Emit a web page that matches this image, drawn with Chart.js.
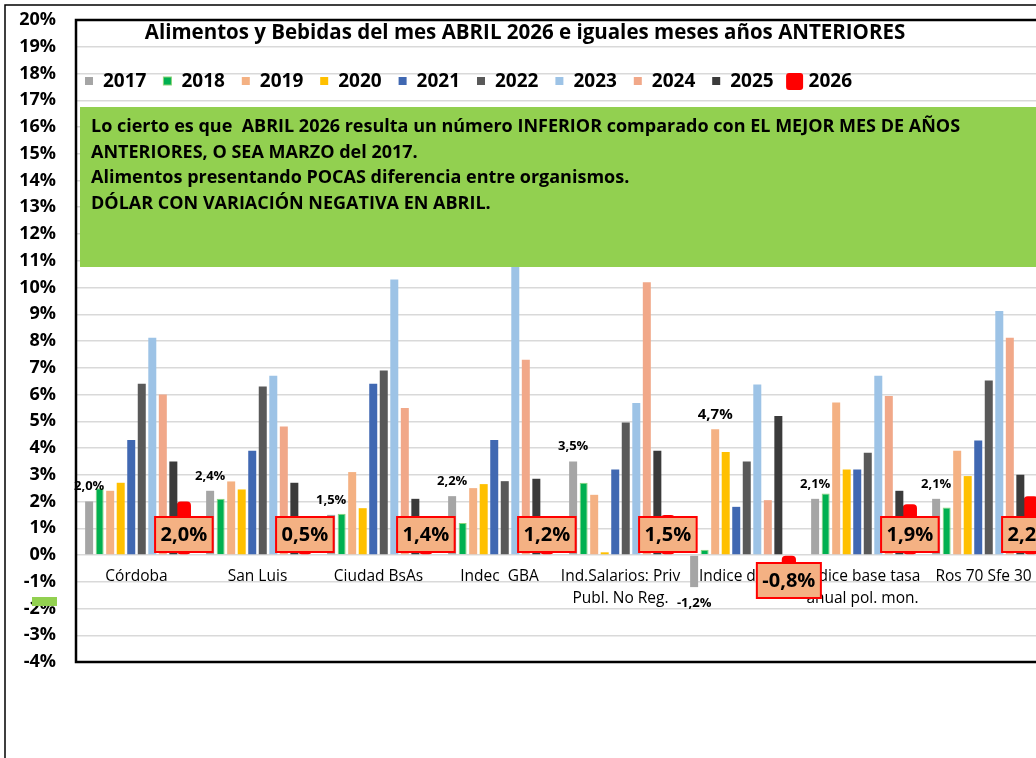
<!DOCTYPE html>
<html>
<head>
<meta charset="utf-8">
<script src="https://cdn.jsdelivr.net/npm/chart.js@4.4.1/dist/chart.umd.min.js"></script>
<style>
  html, body { margin: 0; padding: 0; background: #fff; overflow: hidden; }
  #wrap { position: absolute; left: 0; top: 0; width: 1060px; height: 758px; }
</style>
</head>
<body>
<div id="wrap"><canvas id="chart" width="1060" height="758"></canvas></div>
<script>
// categorias y valores
const categories = ['Córdoba', 'San Luis', 'Ciudad BsAs', 'Indec  GBA',
  ['Ind.Salarios: Priv', 'Publ. No Reg.'], 'Indice dólar',
  ['Indice base tasa', 'anual pol. mon.'], 'Ros 70 Sfe 30'];
const years = ['2017', '2018', '2019', '2020', '2021', '2022', '2023', '2024', '2025', '2026'];

const v2017 = [2.0, 2.4, 1.5, 2.2, 3.5, -1.2, 2.1, 2.1];
const v2018 = [2.5, 2.1, 1.54, 1.2, 2.7, 0.2, 2.3, 1.78];
const v2019 = [2.4, 2.75, 3.1, 2.5, 2.25, 4.7, 5.7, 3.9];
const v2020 = [2.7, 2.45, 1.75, 2.65, 0.1, 3.85, 3.2, 2.95];
const v2021 = [4.3, 3.9, 6.4, 4.3, 3.2, 1.8, 3.2, 4.28];
const v2022 = [6.4, 6.3, 6.9, 2.76, 4.95, 3.5, 3.82, 6.52];
const v2023 = [8.12, 6.7, 10.3, 11.2, 5.68, 6.37, 6.7, 9.12];
const v2024 = [6.0, 4.8, 5.5, 7.3, 10.2, 2.05, 5.94, 8.12];
const v2025 = [3.5, 2.7, 2.1, 2.85, 3.9, 5.2, 2.4, 3.0];
const v2026 = [2.0, 0.5, 1.4, 1.2, 1.5, -0.8, 1.9, 2.2];

const series = [v2017, v2018, v2019, v2020, v2021, v2022, v2023, v2024, v2025, v2026];
const colors = ['#A5A5A5', '#00B050', '#F4B183', '#FFC000', '#4068B2', '#595959', '#9DC3E6', '#F1A889', '#3B3B3B', '#FF0000'];

// etiquetas sobre barras: indices de categoria que llevan valor
const tagged2017 = [0, 1, 2, 3, 4, 5, 6, 7];
const tagged2019 = [5];

const yTicksMin = -4;
const yTicksMax = 20;

const titleText = 'Alimentos y Bebidas del mes ABRIL 2026 e iguales meses años ANTERIORES';
const noteLines = [
  'Lo cierto es que  ABRIL 2026 resulta un número INFERIOR comparado con EL MEJOR MES DE AÑOS',
  'ANTERIORES, O SEA MARZO del 2017.',
  'Alimentos presentando POCAS diferencia entre organismos.',
  'DÓLAR CON VARIACIÓN NEGATIVA EN ABRIL.'
];

const FONT = '"Open Sans", Lato, sans-serif';
const fmt = v => (v < 0 ? '-' : '') + Math.abs(v).toFixed(1).replace('.', ',') + '%';

const datasets = series.map((d, i) => {
  const ds = {
    label: years[i],
    data: d,
    backgroundColor: colors[i],
    borderWidth: 0
  };
  if (years[i] === '2018') {
    ds.borderWidth = 1;
    ds.borderColor = '#8ED37A';
  }
  if (years[i] === '2026') {
    ds.barPercentage = 1.35;
    ds.borderRadius = 4;
    ds.borderSkipped = false;
  }
  return ds;
});

const decor = {
  id: 'decor',
  beforeDraw(chart) {
    const c = chart.ctx;
    c.save();
    c.fillStyle = '#fff';
    c.fillRect(0, 0, chart.width, chart.height);
    c.strokeStyle = '#000';
    c.lineWidth = 1.5;
    c.beginPath();
    c.moveTo(5, chart.height);
    c.lineTo(5, 5);
    c.lineTo(chart.width, 5);
    c.stroke();
    c.restore();
  },
  afterDatasetsDraw(chart) {
    const c = chart.ctx;
    const a = chart.chartArea;
    const y0 = chart.scales.y.getPixelForValue(0);
    c.save();

    // marco del area
    c.strokeStyle = '#000';
    c.lineWidth = 2.5;
    c.strokeRect(a.left, a.top, a.right - a.left + 40, a.bottom - a.top);

    // etiquetas de barras
    c.fillStyle = '#000';
    c.textAlign = 'center';
    c.textBaseline = 'middle';
    const tag = (dsIndex, idxs, size) => {
      const meta = chart.getDatasetMeta(dsIndex);
      c.font = 'bold ' + size + 'px ' + FONT;
      idxs.forEach(j => {
        const bar = meta.data[j];
        const v = series[dsIndex][j];
        const y = v >= 0 ? bar.y - 15 : bar.y + 16;
        c.fillText(fmt(v), bar.x, y);
      });
    };
    tag(0, tagged2017, 13);
    tag(2, tagged2019, 15);

    // cuadro verde con nota
    c.fillStyle = '#92D050';
    c.fillRect(80, 107, chart.width - 80, 160);
    c.fillStyle = '#000';
    c.textAlign = 'left';
    c.font = 'bold 18px ' + FONT;
    noteLines.forEach((t, i) => c.fillText(t, 91, 127 + i * 25.5, i === 0 ? 872 : 2000));

    // cajas de valores 2026
    const meta = chart.getDatasetMeta(9);
    c.font = 'bold 20px ' + FONT;
    c.textAlign = 'center';
    meta.data.forEach((bar, j) => {
      const v = v2026[j];
      const txt = fmt(v);
      const w = c.measureText(txt).width + 11;
      const h = 35;
      const top = v >= 0 ? y0 - 3 - h : y0 + 8;
      c.fillStyle = '#F4B183';
      c.fillRect(bar.x - w / 2, top, w, h);
      c.strokeStyle = '#FF0000';
      c.lineWidth = 2;
      c.strokeRect(bar.x - w / 2, top, w, h);
      c.fillStyle = '#000';
      c.fillText(txt, bar.x, top + h / 2 + 1);
    });

    // titulo
    c.font = 'bold 20.5px ' + FONT;
    c.fillText(titleText, 525, 33, 762);

    // leyenda
    c.textAlign = 'left';
    c.font = 'bold 19px ' + FONT;
    chart.data.datasets.forEach((ds, i) => {
      const cx = 89 + i * 78.4;
      if (ds.label === '2026') {
        c.fillStyle = ds.backgroundColor;
        c.beginPath();
        c.roundRect(cx - 8.5, 73, 17, 17, 3);
        c.fill();
      } else {
        c.fillStyle = ds.backgroundColor;
        c.fillRect(cx - 4, 77, 8, 8);
        if (ds.borderWidth) {
          c.strokeStyle = ds.borderColor;
          c.lineWidth = 1;
          c.strokeRect(cx - 4, 77, 8, 8);
        }
      }
      c.fillStyle = '#000';
      c.fillText(ds.label, cx + 14, 82);
    });

    // marca verde suelta junto al eje
    c.fillStyle = '#92D050';
    c.fillRect(32, 597, 25, 9);
    c.restore();
  }
};

new Chart(document.getElementById('chart'), {
  type: 'bar',
  data: { labels: categories, datasets: datasets },
  options: {
    responsive: false,
    animation: false,
    devicePixelRatio: 1,
    layout: { padding: { left: 0, top: 20, right: 16, bottom: 96 } },
    datasets: { bar: { categoryPercentage: 0.87, barPercentage: 0.76 } },
    plugins: {
      legend: { display: false },
      title: { display: false },
      tooltip: { enabled: false }
    },
    scales: {
      x: {
        position: { y: 0 },
        grid: { display: false },
        border: { display: false },
        ticks: {
          color: '#000',
          font: { family: FONT, size: 15.5, lineHeight: 1.4 },
          padding: 3,
          maxRotation: 0,
          autoSkip: false
        },
        afterFit: s => {
          s.height = 0;
          s.paddingLeft = 0;
          s.paddingRight = 0;
          s.paddingTop = 0;
          s.paddingBottom = 0;
        }
      },
      y: {
        min: yTicksMin,
        max: yTicksMax,
        grid: { color: '#D9D9D9', lineWidth: 1.5, drawTicks: false },
        border: { display: false },
        ticks: {
          stepSize: 1,
          padding: 20,
          color: '#000',
          font: { family: FONT, size: 18, weight: 'bold' },
          callback: v => v + '%'
        },
        afterFit: s => {
          s.width = 76;
          s.paddingTop = 0;
          s.paddingBottom = 0;
        }
      }
    }
  },
  plugins: [decor]
});
</script>
</body>
</html>
